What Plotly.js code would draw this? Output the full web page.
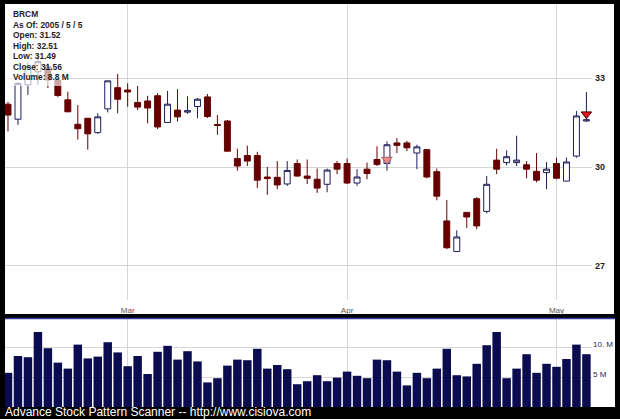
<!DOCTYPE html>
<html>
<head>
<meta charset="utf-8">
<script src="https://cdn.plot.ly/plotly-3.0.1.min.js"></script>
<style>
html,body{margin:0;padding:0;background:#000;}
#chart{width:620px;height:419px;}
</style>
</head>
<body>
<div id="chart"></div>
<script>
// Trading days shown (category axis)
var dates = [
 '2005-02-10','2005-02-11','2005-02-14','2005-02-15','2005-02-16','2005-02-17','2005-02-18',
 '2005-02-22','2005-02-23','2005-02-24','2005-02-25','2005-02-28',
 '2005-03-01','2005-03-02','2005-03-03','2005-03-04','2005-03-07','2005-03-08','2005-03-09','2005-03-10','2005-03-11',
 '2005-03-14','2005-03-15','2005-03-16','2005-03-17','2005-03-18','2005-03-21','2005-03-22','2005-03-23','2005-03-24',
 '2005-03-28','2005-03-29','2005-03-30','2005-03-31',
 '2005-04-01','2005-04-04','2005-04-05','2005-04-06','2005-04-07','2005-04-08','2005-04-11','2005-04-12','2005-04-13',
 '2005-04-14','2005-04-15','2005-04-18','2005-04-19','2005-04-20','2005-04-21','2005-04-22','2005-04-25','2005-04-26',
 '2005-04-27','2005-04-28','2005-04-29',
 '2005-05-02','2005-05-03','2005-05-04','2005-05-05'
];
var openP  = [32.09,31.58,32.76,33.22,33.40,32.93,32.24,31.41,31.61,31.13,31.93,32.66,32.58,32.15,32.20,32.38,31.47,31.89,31.82,32.01,
              32.34,31.40,31.52,30.28,30.38,30.38,29.69,29.68,29.47,30.12,29.72,29.62,29.46,30.12,30.12,29.50,29.94,30.25,30.12,30.79,
              30.79,30.46,30.57,29.86,28.33,27.42,28.59,29.01,28.62,30.23,30.15,30.15,30.08,29.87,29.83,30.12,29.56,30.36,31.52];
var highP  = [32.17,32.85,33.55,33.80,33.53,33.00,32.52,32.06,31.62,31.78,32.90,33.14,32.81,32.72,32.38,32.47,32.55,32.61,32.36,32.30,
              32.44,31.72,31.55,30.60,30.70,30.50,30.01,30.20,30.20,30.25,30.25,29.96,29.96,30.20,30.28,29.94,30.15,30.68,30.84,30.95,
              30.86,30.73,30.57,29.96,28.97,28.05,28.59,29.06,29.72,30.60,30.55,31.03,30.20,30.46,30.17,30.31,30.31,31.86,32.51];
var lowP   = [31.17,31.39,32.41,32.76,32.65,32.33,31.82,30.90,30.57,31.09,31.81,31.78,32.00,31.89,31.44,31.25,31.47,31.50,31.76,31.61,
              31.62,31.06,30.51,29.89,30.04,29.34,29.13,29.31,29.41,29.70,29.47,29.19,29.21,29.78,29.47,29.41,29.62,30.04,29.89,30.46,
              30.52,29.94,29.65,28.96,27.49,27.42,28.12,28.08,28.56,29.78,30.06,30.04,29.65,29.52,29.31,29.62,29.56,30.31,31.49];
var closeP = [31.72,32.81,33.40,33.58,32.93,32.39,31.83,31.26,31.09,31.66,32.90,32.26,32.51,31.99,31.96,31.32,32.09,31.66,31.87,32.26,
              31.67,31.37,30.52,30.04,30.20,29.59,29.64,29.44,29.90,29.72,29.65,29.34,29.91,29.94,29.50,29.69,29.80,30.09,30.73,30.71,
              30.63,30.66,29.69,29.09,27.53,27.85,28.45,28.18,29.46,29.94,30.34,30.23,29.94,29.59,29.94,29.65,30.17,31.69,31.56];
// Volume in millions of shares
var volumeM = [5.7,8.5,8.3,12.5,9.8,7.4,6.4,10.4,8.1,8.4,10.8,9.1,6.8,8.5,5.5,9.2,10.2,7.9,9.3,7.6,
               4.1,4.8,6.9,7.9,7.8,9.7,6.4,7.0,6.3,3.8,4.3,5.3,4.3,4.9,5.9,5.2,4.8,7.9,7.8,5.9,
               3.6,5.7,4.8,6.4,9.7,5.3,5.1,7.2,10.3,12.5,4.8,6.4,8.8,5.7,7.2,6.7,8.0,10.4,8.8];
// Pattern signals (down triangles)
var signalDates  = ['2005-04-07','2005-05-05'];
var signalPrices = [30.25,31.75];
var signalColors = ['#f08a8a','#e8141e'];
// Axis ticks
var monthTickDates  = ['2005-03-01','2005-04-01','2005-05-02'];
var monthTickLabels = ['Mar','Apr','May'];
var priceTicks = [27,30,33];
var volTicks = [5,10];
var volTickLabels = ['5 M','10. M'];
// Info box lines
var infoLines = ['BRCM','As Of: 2005 / 5 / 5','Open: 31.52','High: 32.51','Low: 31.49','Close: 31.56','Volume: 8.8 M'];
var footerText = 'Advance Stock Pattern Scanner -- http://www.cisiova.com';

var W = 620, H = 419;
function px(x){return x/W;}
function py(y){return 1 - y/H;}

var candles = {
  type:'candlestick', x:dates, open:openP, high:highP, low:lowP, close:closeP,
  xaxis:'x', yaxis:'y',
  increasing:{line:{color:'#1c1c5c', width:1}, fillcolor:'#ffffff'},
  decreasing:{line:{color:'#660000', width:1}, fillcolor:'#660000'},
  whiskerwidth:0, hoverinfo:'skip'
};
var signals = {
  type:'scatter', mode:'markers', x:signalDates, y:signalPrices, xaxis:'x', yaxis:'y',
  marker:{symbol:'triangle-down', size:9, color:signalColors, line:{color:['#a06060','#400000'], width:1}},
  hoverinfo:'skip'
};
var vols = {
  type:'bar', x:dates, y:volumeM, xaxis:'x2', yaxis:'y2',
  marker:{color:'#0b0b50', line:{width:0}}, hoverinfo:'skip'
};

var xDomain = [px(5), px(592)];
var xRange = [-0.3, 58.56];
var gridC = '#d6d6d6';

var annotations = infoLines.map(function(t,i){
  return {text:t, xref:'paper', yref:'paper', x:px(10.5), y:py(14.3 + i*10.45),
          xanchor:'left', yanchor:'middle', showarrow:false,
          font:{family:'Arial, Liberation Sans', size:8.4, color:'#1e1e1e', weight:'bold'}};
});
annotations.push({text:footerText, xref:'paper', yref:'paper', x:px(3), y:py(412),
  xanchor:'left', yanchor:'middle', showarrow:false,
  font:{family:'Arial, Liberation Sans', size:12, color:'#ffffff'}});

var layout = {
  width:W, height:H, margin:{l:0,r:0,t:0,b:0,pad:0},
  paper_bgcolor:'#000000', plot_bgcolor:'#ffffff',
  showlegend:false, boxgap:0.15, bargap:0.15,
  xaxis:{type:'category', domain:xDomain, range:xRange, anchor:'y',
    tickvals:monthTickDates, ticktext:monthTickLabels, ticks:'',
    showgrid:true, gridcolor:gridC, gridwidth:1, showline:false, zeroline:false,
    rangeslider:{visible:false}, ticklabelstandoff:4,
    tickfont:{family:'Arial, Liberation Sans', size:8, color:'#555555'}},
  yaxis:{type:'log', domain:[py(300), py(4)], range:[1.41559, 1.55282], anchor:'x', side:'right',
    tickvals:priceTicks, ticktext:priceTicks.map(String), ticks:'', ticklabelstandoff:2,
    showgrid:true, gridcolor:gridC, gridwidth:1, showline:false, zeroline:false,
    tickfont:{family:'Arial, Liberation Sans', size:9, color:'#222222', weight:'bold'}},
  xaxis2:{type:'category', domain:xDomain, range:xRange, anchor:'y2',
    tickvals:monthTickDates, showticklabels:false, ticks:'',
    showgrid:true, gridcolor:gridC, gridwidth:1, showline:false, zeroline:false},
  yaxis2:{domain:[py(407), py(319)], range:[0, 14.67], anchor:'x2', side:'right',
    tickvals:volTicks, ticktext:volTickLabels, ticks:'', ticklabelshift:-3,
    showgrid:true, gridcolor:gridC, gridwidth:1, showline:false, zeroline:false,
    tickfont:{family:'Arial, Liberation Sans', size:8, color:'#26265e'}},
  shapes:[
    {type:'rect', xref:'paper', yref:'paper', x0:px(5), x1:px(614), y0:py(314), y1:py(4),
     fillcolor:'#ffffff', line:{width:0}, layer:'below'},
    {type:'rect', xref:'paper', yref:'paper', x0:px(5), x1:px(615), y0:py(407), y1:py(319),
     fillcolor:'#ffffff', line:{width:0}, layer:'below'},
    {type:'line', xref:'paper', yref:'paper', x0:px(5), x1:px(615), y0:py(318.6), y1:py(318.6),
     line:{color:'#3a3aa0', width:1.5}, layer:'above'},
    {type:'rect', xref:'paper', yref:'paper', x0:px(5), x1:px(68), y0:py(86), y1:py(4),
     fillcolor:'rgba(255,255,255,0.65)', line:{width:0}, layer:'above'}
  ],
  annotations:annotations
};

Plotly.newPlot('chart', [candles, signals, vols], layout, {staticPlot:true, displayModeBar:false});
</script>
</body>
</html>
